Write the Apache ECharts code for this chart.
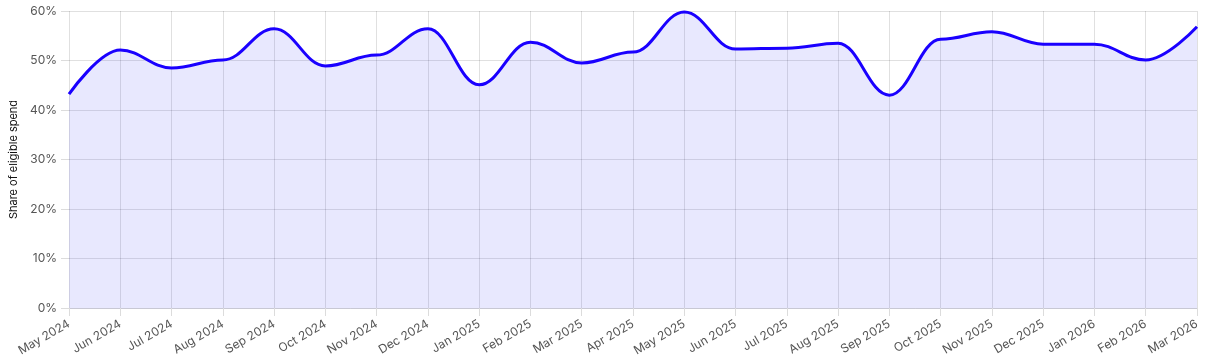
<!DOCTYPE html>
<html>
<head>
<meta charset="utf-8">
<script src="https://cdn.jsdelivr.net/npm/echarts@6/dist/echarts.min.js"></script>
<style>
html,body{margin:0;padding:0;background:#fff;}
#c{width:1207px;height:361px;}
</style>
</head>
<body>
<div id="c"></div>
<script>
const categories = ["May 2024","Jun 2024","Jul 2024","Aug 2024","Sep 2024","Oct 2024","Nov 2024","Dec 2024","Jan 2025","Feb 2025","Mar 2025","Apr 2025","May 2025","Jun 2025","Jul 2025","Aug 2025","Sep 2025","Oct 2025","Nov 2025","Dec 2025","Jan 2026","Feb 2026","Mar 2026"];
const shareValues = [43.2,52.1,48.5,50.1,56.4,48.9,51.1,56.4,45.1,53.7,49.5,51.7,59.8,52.3,52.5,53.5,43.0,54.3,55.8,53.3,53.3,50.1,56.8];
const yAxisTitle = "Share of eligible spend";

const chart = echarts.init(document.getElementById('c'), null, {renderer:'canvas'});
const font = "Inter, 'Noto Sans', sans-serif";
chart.setOption({
  animation:false,
  grid:{left:65,right:10,top:11,bottom:53,containLabel:false},
  xAxis:{
    type:'category',
    data:categories,
    boundaryGap:false,
    axisLine:{show:true,lineStyle:{color:'#c8c8d4',width:1}},
    axisTick:{show:true,alignWithLabel:true,length:8,lineStyle:{color:'#dcdcdc'}},
    axisLabel:{rotate:30,color:'#555',fontSize:12,fontFamily:font,margin:15,interval:0},
    splitLine:{show:true,lineStyle:{color:'rgba(0,0,0,0.12)',width:1}}
  },
  yAxis:{
    type:'value',
    min:0,max:60,interval:10,
    name:yAxisTitle,
    nameLocation:'middle',
    nameGap:46,
    nameTextStyle:{color:'#111',fontSize:11,fontFamily:font},
    axisLine:{show:false},
    axisTick:{show:true,length:8,lineStyle:{color:'#dcdcdc'}},
    axisLabel:{color:'#555',fontSize:12,fontFamily:font,margin:12,formatter:'{value}%'},
    splitLine:{show:true,lineStyle:{color:'rgba(0,0,0,0.12)',width:1}}
  },
  series:[{
    type:'line',
    data:shareValues,
    smooth:0.4,
    smoothMonotone:'x',
    showSymbol:false,
    lineStyle:{color:'#1a00ff',width:3},
    areaStyle:{color:'rgba(20,20,240,0.14)'},
    z:1
  }]
});
</script>
</body>
</html>
